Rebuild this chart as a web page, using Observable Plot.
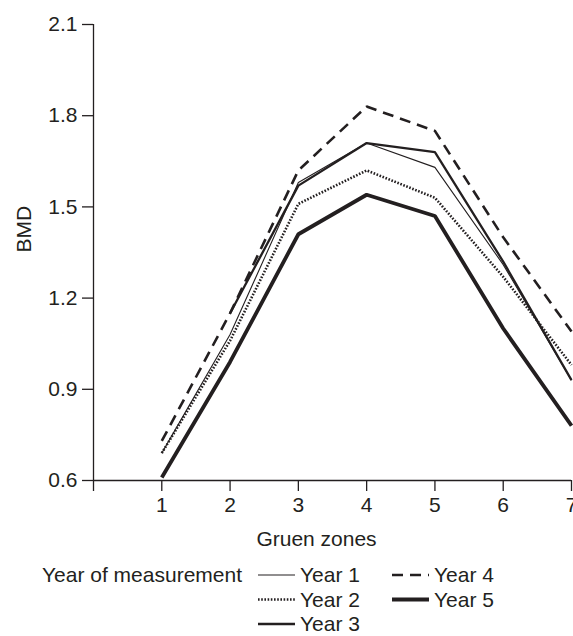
<!DOCTYPE html>
<html>
<head>
<meta charset="utf-8">
<script src="https://cdn.jsdelivr.net/npm/d3@7"></script>
<script src="https://cdn.jsdelivr.net/npm/@observablehq/plot@0.6"></script>
<style>
  body { margin: 0; background: #fff; }
  #chart svg { display: block; }
  #legend { display: block; }
</style>
</head>
<body>
<div id="chart"></div>
<script>
// ---- data ----
const zones = [1, 2, 3, 4, 5, 6, 7];
const year1 = [0.69, 1.08, 1.58, 1.71, 1.63, 1.31, 0.93];
const year2 = [0.69, 1.06, 1.51, 1.62, 1.53, 1.27, 0.98];
const year3 = [null, 1.15, 1.57, 1.71, 1.68, 1.32, 0.93];
const year4 = [0.73, 1.15, 1.62, 1.83, 1.75, 1.40, 1.09];
const year5 = [0.61, 0.99, 1.41, 1.54, 1.47, 1.10, 0.78];
const seriesNames = ["Year 1", "Year 2", "Year 3", "Year 4", "Year 5"];
const xTicks = [0, 1, 2, 3, 4, 5, 6, 7];
const yTicks = [0.6, 0.9, 1.2, 1.5, 1.8, 2.1];
const xLabel = "Gruen zones";
const yLabel = "BMD";
const legendTitle = "Year of measurement";

const ink = "#231f20";
const font = "'Liberation Sans', Arial, Helvetica, sans-serif";
const fs = 21;
const styles = {
  "Year 1": {strokeWidth: 1.1, strokeDasharray: null},
  "Year 2": {strokeWidth: 2.6, strokeDasharray: "1.6,1.6"},
  "Year 3": {strokeWidth: 2.3, strokeDasharray: null},
  "Year 4": {strokeWidth: 2.6, strokeDasharray: "11,7"},
  "Year 5": {strokeWidth: 3.8, strokeDasharray: null}
};
const allSeries = [year1, year2, year3, year4, year5];
const rows = [];
seriesNames.forEach((name, i) => {
  zones.forEach((z, j) => rows.push({series: name, zone: z, bmd: allSeries[i][j]}));
});

const lineMarks = seriesNames.map(name => Plot.line(rows.filter(d => d.series === name), {
  x: "zone", y: "bmd", stroke: ink,
  strokeWidth: styles[name].strokeWidth,
  strokeDasharray: styles[name].strokeDasharray,
  strokeLinejoin: "miter", strokeLinecap: "butt",
  defined: d => d.bmd != null
}));

const chart = Plot.plot({
  width: 573,
  height: 555,
  marginLeft: 93,
  marginRight: 2,
  marginTop: 24,
  marginBottom: 75,
  style: {fontFamily: font, fontSize: fs + "px", color: ink, background: "#fff", overflow: "visible"},
  x: {domain: [0, 7]},
  y: {domain: [0.6, 2.1]},
  marks: [
    Plot.ruleX([0], {y1: 0.6, y2: 2.1, stroke: ink, strokeWidth: 1.3}),
    Plot.ruleY([0.6], {x1: 0, x2: 7, stroke: ink, strokeWidth: 1.3}),
    Plot.axisY(yTicks, {tickSize: 11, tickPadding: 5, tickFormat: d3.format(".1f"), stroke: ink, strokeWidth: 1.3, fill: ink, fontSize: fs, label: null}),
    Plot.axisX(xTicks, {tickSize: 11, tickPadding: 6, tickFormat: d => d === 0 ? "" : String(d), stroke: ink, strokeWidth: 1.3, fill: ink, fontSize: fs, label: null}),
    Plot.text([xLabel], {frameAnchor: "bottom", dx: -16, dy: 65, lineAnchor: "bottom", fill: ink, fontSize: fs}),
    Plot.text([yLabel], {frameAnchor: "left", dx: -69, rotate: -90, fill: ink, fontSize: fs}),
    ...lineMarks
  ]
});
document.getElementById("chart").appendChild(chart);

// ---- legend ----
const lw = 573, lh = 81;
const leg = d3.select("body").append("svg")
  .attr("id", "legend").attr("width", lw).attr("height", lh)
  .style("font-family", font).style("font-size", fs + "px");
leg.append("text").attr("x", 42).attr("y", 27).attr("fill", ink).text(legendTitle);
const legPos = {
  "Year 1": [258, 27], "Year 2": [258, 51.5], "Year 3": [258, 76],
  "Year 4": [392, 27], "Year 5": [392, 51.5]
};
seriesNames.forEach(name => {
  const [x, y] = legPos[name];
  const s = styles[name];
  leg.append("line").attr("x1", x).attr("x2", x + 37).attr("y1", y - 7).attr("y2", y - 7)
    .attr("stroke", ink).attr("stroke-width", s.strokeWidth)
    .attr("stroke-dasharray", s.strokeDasharray);
  leg.append("text").attr("x", x + 42).attr("y", y).attr("fill", ink).text(name);
});
</script>
</body>
</html>
